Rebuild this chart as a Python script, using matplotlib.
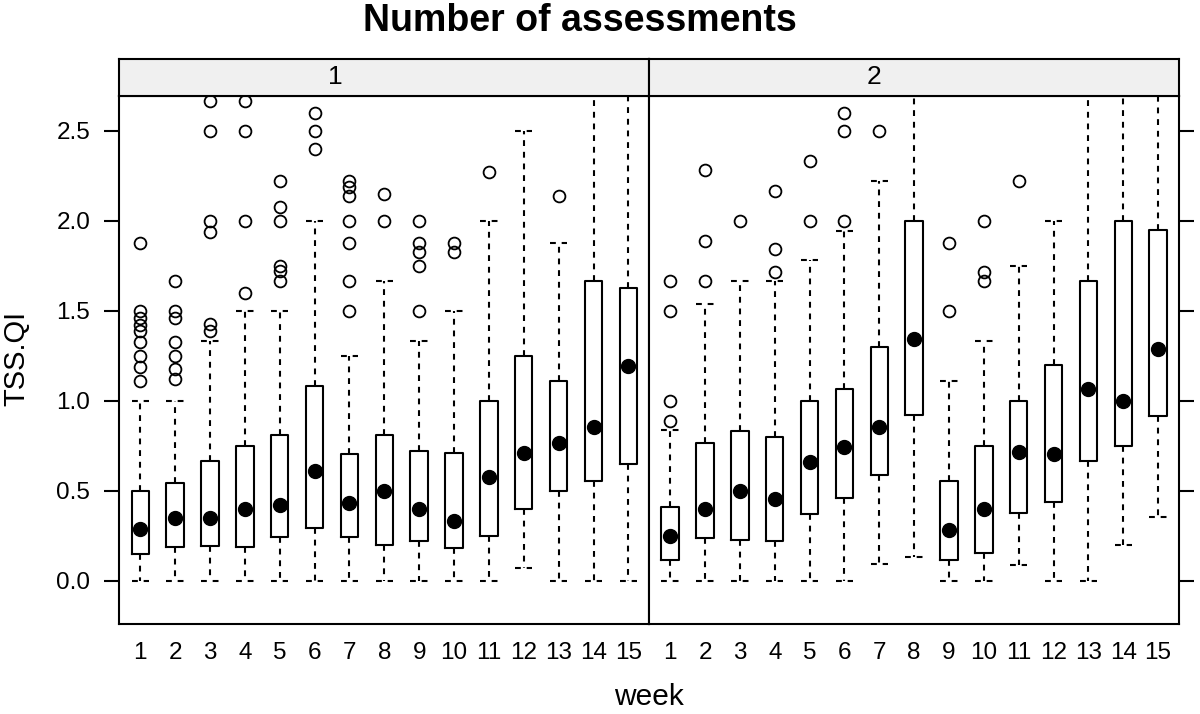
import matplotlib
matplotlib.use("Agg")
import matplotlib.pyplot as plt

plt.rcParams['font.family'] = ['Liberation Sans', 'DejaVu Sans']

weeks = list(range(1, 16))
panels = ["1", "2"]

# Panel 1
p1_q1 = [0.148, 0.19, 0.196, 0.19, 0.246, 0.293, 0.246, 0.198, 0.222, 0.183, 0.248, 0.398, 0.498, 0.556, 0.648]
p1_med = [0.289, 0.35, 0.35, 0.4, 0.424, 0.609, 0.431, 0.498, 0.398, 0.331, 0.578, 0.713, 0.765, 0.856, 1.196]
p1_q3 = [0.5, 0.546, 0.667, 0.748, 0.809, 1.085, 0.706, 0.813, 0.722, 0.713, 0.998, 1.248, 1.109, 1.665, 1.63]
p1_lo = [0, 0, 0, 0, 0, 0, 0, 0, 0, 0, 0, 0.074, 0, 0, 0]
p1_hi = [1.0, 1.0, 1.333, 1.5, 1.5, 2.0, 1.25, 1.667, 1.333, 1.5, 2.0, 2.5, 1.875, 3.0, 3.0]
p1_out = [
    [1.11, 1.19, 1.25, 1.33, 1.39, 1.42, 1.46, 1.5, 1.875],
    [1.12, 1.18, 1.25, 1.33, 1.46, 1.5, 1.667],
    [1.39, 1.43, 1.94, 2.0, 2.5, 2.667],
    [1.6, 2.0, 2.5, 2.667],
    [1.667, 1.72, 1.75, 2.0, 2.08, 2.22],
    [2.4, 2.5, 2.6],
    [1.5, 1.667, 1.875, 2.0, 2.14, 2.19, 2.22],
    [2.0, 2.15],
    [1.5, 1.75, 1.83, 1.875, 2.0],
    [1.83, 1.875],
    [2.27],
    [],
    [2.14],
    [],
    [],
]

# Panel 2
p2_q1 = [0.115, 0.239, 0.23, 0.22, 0.374, 0.463, 0.589, 0.924, 0.115, 0.157, 0.38, 0.439, 0.667, 0.748, 0.915]
p2_med = [0.248, 0.398, 0.498, 0.457, 0.661, 0.746, 0.856, 1.346, 0.281, 0.398, 0.717, 0.704, 1.069, 0.998, 1.291]
p2_q3 = [0.411, 0.769, 0.831, 0.798, 0.998, 1.069, 1.298, 1.998, 0.554, 0.748, 0.998, 1.198, 1.665, 1.998, 1.952]
p2_lo = [0, 0, 0, 0, 0, 0, 0.093, 0.133, 0, 0, 0.087, 0, 0, 0.198, 0.356]
p2_hi = [0.841, 1.537, 1.665, 1.665, 1.781, 1.944, 2.222, 3.0, 1.109, 1.333, 1.75, 2.0, 3.0, 3.0, 3.0]
p2_out = [
    [0.889, 1.0, 1.5, 1.667],
    [1.667, 1.887, 2.285],
    [2.0],
    [1.717, 1.846, 2.165],
    [2.0, 2.331],
    [2.0, 2.5, 2.6],
    [2.5],
    [],
    [1.5, 1.875],
    [1.667, 1.717, 2.0],
    [2.22],
    [],
    [],
    [],
    [],
]

yticks = [0.0, 0.5, 1.0, 1.5, 2.0, 2.5]
ytick_labels = ["0.0", "0.5", "1.0", "1.5", "2.0", "2.5"]

W, H = 1200, 714
fig = plt.figure(figsize=(W / 100, H / 100), dpi=100)

px_left, px_div, px_right = 119.3, 649.3, 1179.0
px_top, px_bot = 95.7, 624.0
strip_top = 59.0

def fx(px):
    return px / W

def fy(py):
    return 1 - py / H

data = [
    (p1_q1, p1_med, p1_q3, p1_lo, p1_hi, p1_out),
    (p2_q1, p2_med, p2_q3, p2_lo, p2_hi, p2_out),
]
strip_x = [0.407, 0.425]
bounds = [(px_left, px_div), (px_div, px_right)]
LW = 1.5

for i, (q1, med, q3, lo, hi, out) in enumerate(data):
    x0, x1 = bounds[i]
    ax = fig.add_axes([fx(x0), fy(px_bot), fx(x1 - x0), fy(px_top) - fy(px_bot)])
    stats = []
    for k in range(len(weeks)):
        stats.append(dict(med=med[k], q1=q1[k], q3=q3[k], whislo=lo[k],
                          whishi=hi[k], fliers=out[k], mean=med[k]))
    ax.bxp(stats, positions=weeks, widths=0.5, capwidths=0.5,
           showmeans=True, showfliers=True, patch_artist=False,
           boxprops=dict(color='black', linewidth=LW),
           whiskerprops=dict(color='black', linewidth=LW, linestyle=(0, (2.8, 2.8))),
           capprops=dict(color='black', linewidth=LW, linestyle=(0, (2.8, 2.8))),
           medianprops=dict(visible=False),
           meanprops=dict(marker='o', markerfacecolor='black', markeredgecolor='black',
                          markersize=10, linestyle='none'),
           flierprops=dict(marker='o', markerfacecolor='none', markeredgecolor='black',
                           markersize=8.5, markeredgewidth=1.3, linestyle='none'),
           manage_ticks=False)
    ax.set_xlim(0.4, 15.6)
    ax.set_ylim(-0.239, 2.696)
    ax.set_xticks(weeks)
    ax.set_xticklabels([str(w) for w in weeks], fontsize=17.5)
    ax.tick_params(axis='x', length=0, pad=13)
    ax.set_yticks(yticks)
    if i == 0:
        ax.set_yticklabels(ytick_labels, fontsize=17.5)
        ax.tick_params(axis='y', direction='out', length=11, width=LW, pad=10,
                       left=True, right=False, labelleft=True)
    else:
        ax.tick_params(axis='y', direction='out', length=11, width=LW,
                       left=False, right=True, labelleft=False, labelright=False)
    for s in ax.spines.values():
        s.set_linewidth(LW)

    # strip
    sax = fig.add_axes([fx(x0), fy(px_top), fx(x1 - x0), fy(strip_top) - fy(px_top)])
    sax.set_xlim(0, 1)
    sax.set_ylim(0, 1)
    sax.set_facecolor('#f0f0f0')
    sax.set_xticks([])
    sax.set_yticks([])
    for s in sax.spines.values():
        s.set_linewidth(LW)
    sax.text(strip_x[i], 0.5, panels[i], ha='center', va='center', fontsize=19)

fig.text(fx(580), fy(21), "Number of assessments", ha='center', va='center',
         fontsize=27, fontweight='bold')
fig.text(fx(649), fy(697), "week", ha='center', va='center', fontsize=21.5)
fig.text(fx(16), fy(358), "TSS.QI", ha='center', va='center', fontsize=21, rotation=90)

fig.savefig("out.png", dpi=100)
